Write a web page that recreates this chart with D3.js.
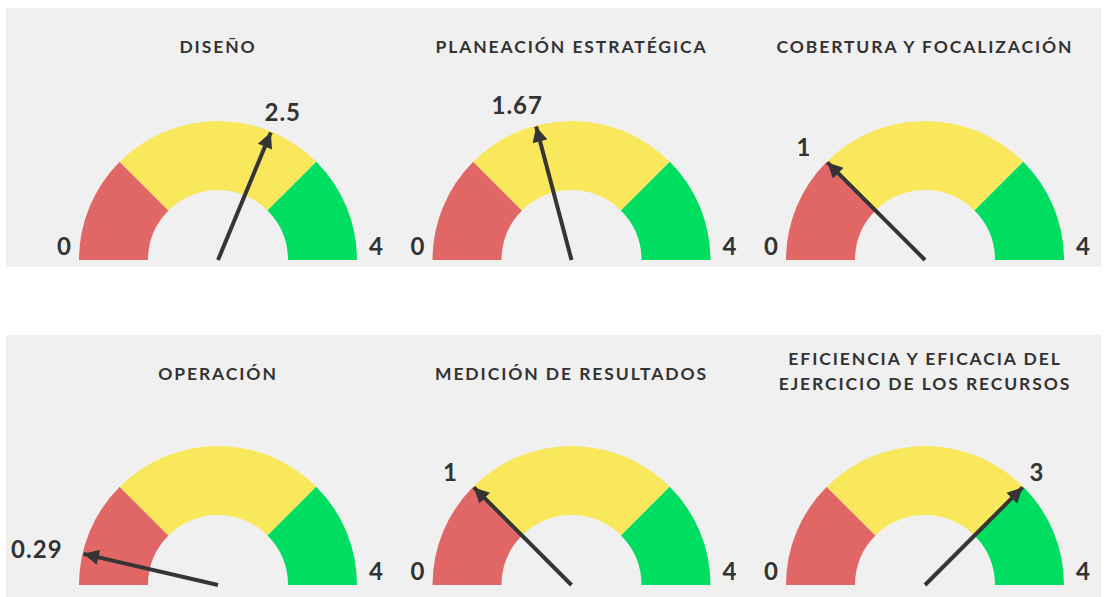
<!DOCTYPE html>
<html><head><meta charset="utf-8">
<script src="https://cdn.jsdelivr.net/npm/d3@7"></script>
<style>
html,body{margin:0;padding:0;background:#fff;}
svg{display:block;}
text{font-family:Lato, "Open Sans", sans-serif;fill:#333;}
</style></head>
<body>
<svg id="c" width="1109" height="597"></svg>
<script>
const titles = [
  ["DISEÑO"],
  ["PLANEACIÓN ESTRATÉGICA"],
  ["COBERTURA Y FOCALIZACIÓN"],
  ["OPERACIÓN"],
  ["MEDICIÓN DE RESULTADOS"],
  ["EFICIENCIA Y EFICACIA DEL", "EJERCICIO DE LOS RECURSOS"]
];
const values = [2.5, 1.67, 1, 0.29, 1, 3];
const valueLabels = ["2.5", "1.67", "1", "0.29", "1", "3"];
const scaleMin = 0, scaleMax = 4;
const minLabel = "0", maxLabel = "4";
const bandStops = [0, 1, 3, 4];
const bandColors = ["#e06765", "#f9e85b", "#00de61"];

const svg = d3.select("#c");
const rows = [{top: 8, bottom: 267, base: 260}, {top: 335, bottom: 597, base: 585}];
rows.forEach(r => svg.append("rect").attr("x", 6).attr("y", r.top)
  .attr("width", 1095).attr("height", r.bottom - r.top).attr("fill", "#f0f0f0"));

const colX = d3.scalePoint().domain([0,1,2]).range([218, 925]);
const R = 139, r0 = 70;
const ang = d3.scaleLinear().domain([scaleMin, scaleMax]).range([-Math.PI/2, Math.PI/2]);
const arc = d3.arc().innerRadius(r0).outerRadius(R);

const defs = svg.append("defs");
defs.append("marker").attr("id", "arrow").attr("viewBox", "0 0 10 10")
  .attr("refX", 10).attr("refY", 5).attr("markerWidth", 4.2).attr("markerHeight", 3.8)
  .attr("markerUnits", "strokeWidth").attr("orient", "auto")
  .append("path").attr("d", "M0,0 L10,5 L0,10 Z").attr("fill", "#353535");

values.forEach((v, i) => {
  const row = rows[Math.floor(i / 3)];
  const cx = colX(i % 3), cy = row.base;
  const g = svg.append("g").attr("transform", `translate(${cx},${cy})`);
  for (let b = 0; b < bandColors.length; b++) {
    g.append("path").attr("d", arc({startAngle: ang(bandStops[b]), endAngle: ang(bandStops[b+1])}))
      .attr("fill", bandColors[b]);
  }
  // min / max labels (min hidden when the value label sits on it)
  if ((v - scaleMin) / (scaleMax - scaleMin) > 0.1) {
    g.append("text").attr("x", -R - 8).attr("y", -5).attr("text-anchor", "end")
      .style("font-size", "24px").style("font-weight", 700).text(minLabel);
  }
  g.append("text").attr("x", R + 12).attr("y", -5).attr("text-anchor", "start")
    .style("font-size", "24px").style("font-weight", 700).text(maxLabel);
  // needle
  const a = ang(v);
  const ux = Math.sin(a), uy = -Math.cos(a);
  g.append("line").attr("x1", 0).attr("y1", 0).attr("x2", ux * (R - 1)).attr("y2", uy * (R - 1))
    .attr("stroke", "#353535").attr("stroke-width", 4).attr("marker-end", "url(#arrow)");
  // value label
  const t = g.append("text").style("font-size", "24px").style("font-weight", 700)
    .style("letter-spacing", "1px")
    .attr("text-anchor", "middle").attr("dominant-baseline", "central").text(valueLabels[i]);
  const w = t.node().getComputedTextLength();
  const px = ux * (R + 12), py = uy * (R + 12);
  const shift = ux < 0 ? -9 : 0;
  t.attr("x", px + ux * w / 2 + shift).attr("y", py + uy * 10);
  // title
  const lines = titles[i];
  const tyBase = row.top + (lines.length > 1 ? 23.5 : 38.5);
  lines.forEach((ln, k) => {
    svg.append("text").attr("x", cx).attr("y", tyBase + k * 25)
      .attr("text-anchor", "middle").attr("dominant-baseline", "central")
      .style("font-size", "17.5px").style("font-weight", 700).style("letter-spacing", "1.9px")
      .text(ln);
  });
});
</script>
</body></html>
